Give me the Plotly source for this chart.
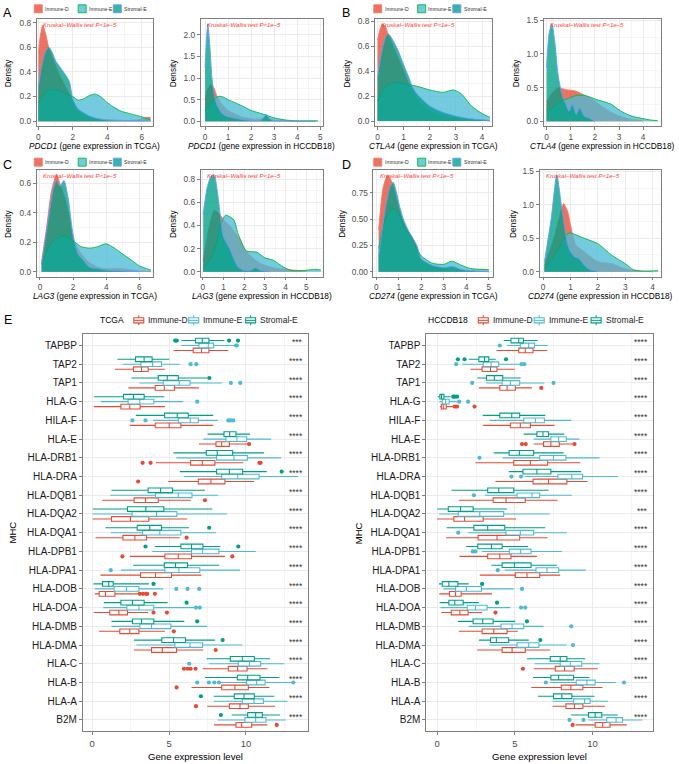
import plotly.graph_objects as go

W, H = 679, 764
FONT = "Liberation Sans, Arial, Helvetica, sans-serif"

GROUPS = ["Immune-D", "Immune-E", "Stromal-E"]

# ---------------- density curves ----------------
PDCD1_TCGA = {
    "Immune-D": ([0, 0.1, 0.25, 0.4, 0.6, 0.8, 1.0, 1.2, 1.5, 1.8, 2.0, 2.3, 2.6, 3.0, 3.5, 4.0, 5.0, 5.8, 6.2, 6.5],
                 [0.55, 0.68, 0.78, 0.72, 0.6, 0.52, 0.45, 0.38, 0.3, 0.22, 0.15, 0.08, 0.04, 0.02, 0.01, 0.01, 0.005, 0.01, 0.03, 0.03]),
    "Immune-E": ([0, 0.3, 0.6, 0.8, 1.2, 1.6, 2.0, 2.3, 2.6, 3.0, 3.3, 3.6, 4.0, 4.3, 4.8, 5.2, 5.6, 6.0, 6.5],
                 [0.15, 0.21, 0.25, 0.26, 0.25, 0.22, 0.2, 0.17, 0.18, 0.21, 0.22, 0.2, 0.15, 0.12, 0.08, 0.065, 0.05, 0.035, 0.01]),
    "Stromal-E": ([0, 0.2, 0.4, 0.6, 0.8, 1.0, 1.3, 1.6, 1.8, 2.0, 2.3, 2.6, 3.0, 3.5, 4.0, 5.0, 6.0, 6.5],
                  [0.28, 0.45, 0.56, 0.6, 0.56, 0.49, 0.43, 0.37, 0.32, 0.18, 0.1, 0.07, 0.04, 0.02, 0.01, 0.005, 0.005, 0.005]),
}
PDCD1_HCCDB18 = {
    "Immune-D": ([0, 0.1, 0.25, 0.4, 0.5, 0.7, 1.0, 1.3, 1.6, 2.0, 2.4, 2.65, 2.9, 3.3, 4.0, 4.8],
                 [0.5, 0.75, 0.86, 0.75, 0.6, 0.42, 0.25, 0.17, 0.1, 0.06, 0.05, 0.12, 0.04, 0.02, 0.005, 0.0]),
    "Immune-E": ([0, 0.2, 0.4, 0.6, 0.8, 1.0, 1.3, 1.6, 2.0, 2.5, 3.0, 3.5, 4.0, 4.5, 4.9],
                 [0.25, 0.38, 0.52, 0.58, 0.56, 0.5, 0.43, 0.36, 0.25, 0.17, 0.08, 0.03, 0.01, 0.01, 0.01]),
    "Stromal-E": ([0, 0.06, 0.12, 0.2, 0.3, 0.4, 0.5, 0.7, 0.9, 1.2, 1.5, 2.0, 2.4, 2.55, 2.65, 2.75, 2.9, 3.5, 4.0, 4.8],
                  [1.25, 1.9, 2.25, 1.8, 1.0, 0.6, 0.4, 0.2, 0.12, 0.08, 0.05, 0.02, 0.02, 0.08, 0.16, 0.08, 0.02, 0.01, 0.005, 0.0]),
}
CTLA4_TCGA = {
    "Immune-D": ([0, 0.1, 0.2, 0.3, 0.4, 0.6, 0.8, 1.0, 1.2, 1.4, 1.6, 2.0, 2.5, 3.0, 3.5, 4.0, 4.3],
                 [0.65, 0.74, 0.78, 0.76, 0.7, 0.6, 0.5, 0.4, 0.3, 0.22, 0.15, 0.08, 0.04, 0.02, 0.01, 0.01, 0.0]),
    "Immune-E": ([0, 0.3, 0.7, 1.0, 1.5, 2.0, 2.5, 2.9, 3.2, 3.6, 4.0, 4.3],
                 [0.16, 0.28, 0.31, 0.3, 0.28, 0.25, 0.23, 0.25, 0.22, 0.12, 0.06, 0.03]),
    "Stromal-E": ([0, 0.15, 0.3, 0.4, 0.5, 0.8, 1.0, 1.2, 1.3, 1.5, 2.0, 2.5, 3.0, 3.5, 4.0, 4.3],
                  [0.35, 0.55, 0.67, 0.7, 0.68, 0.56, 0.45, 0.35, 0.29, 0.22, 0.12, 0.07, 0.04, 0.02, 0.01, 0.005]),
}
CTLA4_HCCDB18 = {
    "Immune-D": ([0, 0.3, 0.5, 0.8, 1.2, 1.5, 1.8, 2.0, 2.3, 2.6, 3.0, 3.5, 4.0],
                 [0.3, 0.45, 0.5, 0.47, 0.45, 0.4, 0.35, 0.3, 0.22, 0.15, 0.08, 0.03, 0.01]),
    "Immune-E": ([0, 0.3, 0.6, 0.9, 1.2, 1.5, 1.8, 2.1, 2.4, 2.7, 3.0, 3.3, 3.6, 4.0, 4.3, 4.6],
                 [0.16, 0.22, 0.3, 0.34, 0.38, 0.39, 0.36, 0.32, 0.29, 0.25, 0.17, 0.11, 0.07, 0.04, 0.02, 0.01]),
    "Stromal-E": ([0, 0.1, 0.22, 0.35, 0.47, 0.6, 0.68, 0.8, 0.93, 1.07, 1.23, 1.37, 1.55, 1.75, 2.0],
                  [0.8, 1.3, 1.45, 1.15, 0.7, 0.45, 0.35, 0.25, 0.15, 0.25, 0.1, 0.2, 0.08, 0.05, 0.0]),
}
LAG3_TCGA = {
    "Immune-D": ([0.1, 0.4, 0.7, 1.0, 1.2, 1.5, 1.8, 2.0, 2.5, 3.0, 3.5, 4.0, 5.0, 6.0, 6.7],
                 [0.07, 0.3, 0.55, 0.66, 0.6, 0.5, 0.35, 0.22, 0.12, 0.06, 0.03, 0.02, 0.02, 0.005, 0.0]),
    "Immune-E": ([0.1, 0.6, 1.2, 1.6, 2.0, 2.5, 3.0, 3.5, 4.0, 4.5, 5.0, 5.5, 6.0, 6.7],
                 [0.05, 0.18, 0.24, 0.24, 0.21, 0.17, 0.16, 0.17, 0.19, 0.16, 0.12, 0.08, 0.04, 0.01]),
    "Stromal-E": ([0.1, 0.5, 0.8, 1.0, 1.2, 1.45, 1.7, 2.0, 2.3, 2.6, 3.0, 3.5, 4.0, 5.0, 6.0],
                  [0.05, 0.35, 0.56, 0.62, 0.58, 0.62, 0.5, 0.25, 0.12, 0.08, 0.03, 0.02, 0.01, 0.005, 0.0]),
}
LAG3_HCCDB18 = {
    "Immune-D": ([0.02, 0.3, 0.55, 0.8, 1.0, 1.3, 1.5, 1.8, 2.0, 2.4, 2.8, 3.1, 3.5, 4.0, 5.0],
                 [0.1, 0.38, 0.53, 0.5, 0.45, 0.4, 0.35, 0.28, 0.2, 0.12, 0.07, 0.05, 0.03, 0.02, 0.005]),
    "Immune-E": ([0.02, 0.5, 0.85, 1.1, 1.5, 1.7, 2.1, 2.6, 3.0, 3.4, 3.9, 4.3, 4.8, 5.4, 5.7],
                 [0.03, 0.15, 0.4, 0.49, 0.45, 0.33, 0.18, 0.17, 0.12, 0.1, 0.04, 0.01, 0.01, 0.02, 0.015]),
    "Stromal-E": ([0.02, 0.2, 0.4, 0.55, 0.7, 0.85, 1.0, 1.3, 1.5, 1.7, 2.0, 2.3, 2.55, 2.8, 3.2],
                  [0.5, 0.72, 0.83, 0.84, 0.7, 0.48, 0.3, 0.2, 0.11, 0.04, 0.01, 0.01, 0.035, 0.01, 0.0]),
}
CD274_TCGA = {
    "Immune-D": ([0.1, 0.3, 0.5, 0.7, 1.0, 1.3, 1.6, 2.0, 2.5, 3.0, 3.5, 4.0, 5.0],
                 [0.4, 0.8, 0.92, 0.85, 0.6, 0.42, 0.33, 0.12, 0.05, 0.03, 0.02, 0.01, 0.005]),
    "Immune-E": ([0.1, 0.4, 0.75, 1.0, 1.3, 1.5, 1.8, 2.0, 2.5, 3.0, 3.35, 3.8, 4.2, 5.0],
                 [0.22, 0.5, 0.6, 0.55, 0.4, 0.35, 0.22, 0.15, 0.08, 0.07, 0.1, 0.06, 0.03, 0.02]),
    "Stromal-E": ([0.1, 0.4, 0.6, 0.75, 0.9, 1.0, 1.2, 1.5, 1.8, 2.0, 2.5, 3.0, 3.4, 3.8, 4.5, 5.0],
                  [0.15, 0.6, 0.8, 0.85, 0.75, 0.65, 0.5, 0.36, 0.25, 0.12, 0.06, 0.04, 0.05, 0.02, 0.005, 0.0]),
}
CD274_HCCDB18 = {
    "Immune-D": ([0.05, 0.4, 0.65, 0.75, 0.9, 1.0, 1.2, 1.5, 2.0, 2.5, 3.0, 3.5, 4.0],
                 [0.1, 0.5, 0.9, 1.02, 0.9, 0.7, 0.4, 0.3, 0.15, 0.12, 0.04, 0.01, 0.0]),
    "Immune-E": ([0.05, 0.5, 0.9, 1.0, 1.5, 2.0, 2.5, 3.0, 3.3, 3.6, 4.2],
                 [0.05, 0.3, 0.57, 0.58, 0.5, 0.42, 0.25, 0.12, 0.03, 0.01, 0.015]),
    "Stromal-E": ([0.05, 0.3, 0.5, 0.7, 0.9, 1.0, 1.15, 1.3, 1.5, 1.7, 2.0],
                  [0.15, 0.8, 1.45, 0.9, 0.4, 0.3, 0.22, 0.2, 0.1, 0.03, 0.005]),
}

# ---------------- box plot statistics (lo whisker, q1, median, q3, hi whisker) ----------------
GENES = ["TAPBP", "TAP2", "TAP1", "HLA-G", "HILA-F", "HLA-E", "HLA-DRB1", "HLA-DRA", "HLA-DQB1",
         "HLA-DQA2", "HLA-DQA1", "HLA-DPB1", "HLA-DPA1", "HLA-DOB", "HLA-DOA", "HLA-DMB", "HLA-DMA",
         "HLA-C", "HLA-B", "HLA-A", "B2M"]

TCGA_STROMAL = [(5.81, 6.72, 7.16, 7.59, 8.59), (1.65, 2.82, 3.38, 3.90, 5.01), (2.56, 4.30, 4.88, 5.60, 7.50),
                (0.11, 2.04, 2.69, 3.38, 4.69), (2.84, 4.71, 5.53, 6.25, 7.87), (7.51, 8.57, 8.94, 9.35, 10.26),
                (5.29, 7.42, 8.13, 9.13, 11.17), (5.70, 8.09, 8.92, 9.78, 11.35), (1.26, 3.64, 4.45, 5.23, 7.33),
                (0.04, 2.30, 3.49, 4.66, 7.81), (0.87, 2.93, 3.75, 4.51, 6.29), (4.08, 5.77, 6.46, 7.20, 8.33),
                (2.67, 4.69, 5.42, 6.20, 8.26), (0.09, 0.67, 1.08, 1.37, 3.69), (0.76, 1.87, 2.62, 3.38, 4.90),
                (1.26, 2.62, 3.21, 4.01, 5.99), (2.71, 4.53, 5.29, 6.07, 7.98), (7.44, 8.98, 9.76, 10.54, 11.56),
                (7.33, 9.44, 10.11, 10.91, 12.17), (7.90, 9.24, 9.87, 10.54, 11.84), (9.07, 10.11, 10.63, 11.06, 12.21)]
TCGA_IMMUNE_E = [(5.80, 6.94, 7.55, 7.90, 9.28), (1.97, 3.17, 3.93, 4.51, 5.70), (3.08, 4.62, 5.66, 6.36, 8.42),
                 (0.56, 2.34, 3.10, 4.01, 5.92), (3.97, 5.60, 6.38, 6.90, 8.16), (7.22, 8.70, 9.41, 10.04, 11.63),
                 (5.47, 8.09, 9.22, 10.09, 12.28), (5.97, 8.42, 9.46, 10.85, 13.40), (1.17, 4.12, 5.60, 6.49, 8.20),
                 (0.04, 2.60, 4.19, 5.51, 8.76), (1.21, 3.28, 4.40, 5.77, 8.05), (3.90, 6.46, 7.18, 8.24, 10.63),
                 (1.87, 4.73, 5.64, 7.00, 9.61), (0.17, 1.43, 2.23, 3.04, 4.62), (0.72, 2.26, 3.04, 4.01, 6.64),
                 (1.26, 3.10, 3.86, 5.12, 7.48), (2.88, 5.38, 6.36, 7.18, 9.76), (7.59, 9.50, 10.22, 10.95, 12.49),
                 (8.35, 10.04, 10.69, 11.24, 12.97), (7.90, 9.76, 10.52, 11.13, 12.69), (8.16, 9.93, 10.63, 11.30, 12.58)]
TCGA_IMMUNE_D = [(5.29, 6.57, 7.11, 7.59, 8.85), (1.48, 2.69, 3.21, 3.64, 4.73), (2.36, 4.10, 4.69, 5.36, 6.94),
                 (0.11, 1.87, 2.45, 3.12, 4.73), (2.45, 4.10, 5.01, 5.77, 7.87), (6.94, 8.05, 8.42, 8.92, 10.15),
                 (4.14, 6.40, 7.16, 7.98, 9.83), (4.95, 6.90, 7.72, 8.63, 10.52), (0.65, 2.73, 3.47, 4.30, 6.42),
                 (0.04, 1.26, 2.49, 3.69, 6.18), (0.22, 2.00, 2.78, 3.54, 5.70), (2.45, 4.73, 5.60, 6.46, 8.63),
                 (0.54, 3.15, 4.12, 5.16, 7.11), (0.17, 0.46, 0.87, 1.48, 2.99), (0.11, 1.15, 1.74, 2.30, 3.64),
                 (0.46, 1.80, 2.45, 3.04, 4.73), (2.71, 3.86, 4.56, 5.49, 7.22), (7.18, 8.85, 9.46, 10.07, 11.39),
                 (6.46, 8.42, 9.28, 10.15, 11.52), (7.48, 8.92, 9.61, 10.15, 11.89), (7.92, 9.35, 9.72, 10.37, 11.39)]

TCGA_OUT_STROMAL = {"TAPBP": [5.4, 5.5, 8.9, 9.48], "TAP1": [7.62], "HLA-DRA": [12.32], "HLA-DQA1": [7.61],
                    "HLA-DPB1": [3.47, 9.5], "HLA-DOB": [3.99], "HLA-DOA": [6.14], "HLA-DMB": [6.83],
                    "HLA-DMA": [8.48], "HLA-A": [7.07], "B2M": [8.37]}
TCGA_OUT_IMMUNE_E = {"TAPBP": [9.35, 9.41], "TAP2": [6.4, 6.77], "TAP1": [9.02, 9.63], "HLA-G": [6.83],
                     "HILA-F": [2.62, 3.47, 8.85, 9.0, 9.17], "HLA-DPA1": [1.21], "HLA-DOB": [5.47, 6.2, 6.96],
                     "HLA-DOA": [6.75, 7.0], "HLA-C": [6.31], "HLA-B": [6.83, 7.59, 7.94, 8.24, 13.08]}
TCGA_OUT_IMMUNE_D = {"HLA-E": [10.2], "HLA-DRB1": [3.28, 3.8, 10.87, 10.95], "HLA-DRA": [2.99], "HLA-DQB1": [7.33],
                     "HLA-DQA1": [6.14], "HLA-DPB1": [1.97, 9.11], "HLA-DOB": [3.1, 3.3, 3.5, 3.58, 4.08],
                     "HLA-DOA": [3.99, 4.86], "HLA-DMB": [5.31], "HLA-DMA": [8.03], "HLA-C": [5.97, 6.2, 6.4, 6.72],
                     "HLA-B": [5.49], "HLA-A": [6.75], "B2M": [12.0]}

HCC_STROMAL = [(4.28, 4.75, 5.25, 5.55, 6.47), (2.03, 2.68, 3.04, 3.32, 3.77), (2.57, 3.17, 3.68, 4.22, 5.37),
               (0.04, 0.17, 0.28, 0.43, 0.86), (2.93, 4.03, 4.80, 5.31, 6.96), (5.57, 6.42, 6.81, 7.17, 8.18),
               (3.64, 4.63, 5.29, 6.21, 8.14), (4.60, 5.52, 6.42, 7.32, 9.27), (0.92, 3.25, 3.96, 4.93, 7.17),
               (0.00, 0.71, 1.50, 2.31, 4.50), (0.60, 2.36, 3.25, 4.35, 6.96), (1.86, 2.61, 3.49, 4.18, 5.85),
               (3.49, 4.18, 4.97, 6.04, 7.71), (0.11, 0.32, 0.75, 1.33, 2.03), (0.15, 0.75, 1.13, 1.67, 2.68),
               (1.33, 2.31, 2.93, 3.60, 5.03), (2.68, 3.43, 3.81, 4.60, 5.89), (5.78, 7.28, 7.92, 8.35, 9.53),
               (6.17, 7.32, 7.82, 8.78, 9.81), (6.49, 7.49, 8.03, 8.67, 10.13), (8.63, 9.74, 10.17, 10.60, 11.63)]
HCC_IMMUNE_E = [(4.50, 5.35, 5.89, 6.27, 7.11), (1.61, 2.96, 3.47, 3.96, 5.25), (3.15, 4.18, 4.71, 5.31, 6.90),
                (0.13, 0.32, 0.54, 0.77, 1.28), (3.38, 5.57, 6.32, 6.90, 8.63), (6.21, 7.32, 7.82, 8.31, 9.16),
                (4.22, 6.60, 7.49, 8.29, 10.45), (5.67, 7.77, 8.67, 9.36, 11.63), (3.06, 5.14, 6.10, 6.60, 8.67),
                (0.11, 1.35, 2.74, 4.28, 7.24), (1.99, 4.43, 5.35, 6.21, 8.35), (2.89, 4.65, 5.37, 6.04, 8.03),
                (4.35, 6.36, 7.07, 7.82, 9.57), (0.39, 1.18, 1.88, 2.85, 4.93), (0.21, 1.93, 2.46, 3.21, 4.71),
                (2.03, 4.11, 4.82, 5.57, 6.85), (3.36, 5.14, 5.89, 6.55, 8.35), (6.27, 7.92, 8.57, 9.31, 10.45),
                (7.28, 8.95, 9.64, 10.17, 11.50), (7.43, 8.78, 9.49, 9.85, 10.99), (9.74, 10.92, 11.52, 11.93, 13.21)]
HCC_IMMUNE_D = [(3.81, 5.25, 5.67, 6.17, 7.09), (2.14, 2.89, 3.43, 3.85, 4.99), (2.68, 4.03, 4.50, 5.03, 6.10),
                (0.17, 0.26, 0.39, 0.58, 1.07), (2.96, 4.71, 5.35, 6.00, 7.56), (6.21, 6.85, 7.32, 7.86, 8.78),
                (2.46, 4.93, 6.00, 7.11, 9.21), (3.75, 6.17, 7.17, 8.35, 9.68), (1.39, 3.60, 4.43, 5.67, 7.75),
                (0.00, 1.07, 1.76, 2.96, 5.07), (0.56, 2.63, 3.85, 5.31, 7.11), (1.43, 3.25, 4.03, 4.75, 6.42),
                (2.74, 5.03, 5.78, 6.60, 7.92), (0.13, 0.79, 1.18, 1.54, 3.53), (0.26, 0.90, 1.46, 1.99, 2.89),
                (1.39, 2.89, 3.64, 4.50, 5.20), (2.57, 4.18, 4.82, 5.67, 7.28), (6.21, 7.60, 8.20, 8.82, 10.34),
                (6.06, 7.99, 8.61, 9.38, 10.64), (7.43, 8.29, 8.84, 9.38, 10.81), (8.90, 10.17, 10.66, 11.13, 12.21)]

HCC_OUT_STROMAL = {"TAP2": [1.33, 1.76, 4.43], "HLA-G": [1.03, 1.13, 1.28], "HLA-DOB": [2.89], "HLA-DOA": [3.85],
                   "HLA-DMB": [5.78], "HLA-DMA": [6.64]}
HCC_OUT_IMMUNE_E = {"TAPBP": [4.03], "TAP2": [1.22, 5.42, 5.61], "TAP1": [2.25, 7.49], "HLA-G": [1.41, 1.99],
                    "HLA-DRB1": [2.72], "HLA-DRA": [4.78, 5.4], "HLA-DQB1": [2.36], "HLA-DQA1": [1.35],
                    "HLA-DPB1": [2.29, 2.46], "HLA-DPA1": [3.9], "HLA-DOB": [5.46], "HLA-DOA": [5.4, 5.67],
                    "HLA-DMB": [8.63], "HLA-DMA": [8.74], "HLA-B": [7.0, 12.03], "B2M": [8.52, 9.42]}
HCC_OUT_IMMUNE_D = {"TAP1": [6.7], "HLA-G": [1.13, 1.28, 2.4], "HLA-E": [5.46, 5.7, 8.84], "HLA-DOA": [3.75],
                    "HLA-C": [5.52], "B2M": [8.72]}

TCGA_SIG = ["***"] + ["****"] * 20
HCC_SIG = ["****"] * 9 + ["***"] + ["****"] * 11

# ---------------- styling ----------------
FILL = {"Immune-D": "rgba(230,75,53,0.78)", "Immune-E": "rgba(77,187,213,0.78)", "Stromal-E": "rgba(0,160,135,0.78)"}
EDGE = {"Immune-D": "#F8766D", "Immune-E": "#00BA38", "Stromal-E": "#619CFF"}
BOXCOL = {"Immune-D": "#E64B35", "Immune-E": "#4DBBD5", "Stromal-E": "#00A087"}
GRID = "#EBEBEB"
MINOR = "#F5F5F5"
FRAME = "#7F7F7F"
TICKTXT = "#4D4D4D"


def X(px):
    return px / W


def Y(py):
    return 1 - py / H


def sfx(i):
    return "" if i == 1 else str(i)


fig = go.Figure()
annotations = []
shapes = []
layout = {}

# density panels: (data, gene, dataset, xrange, yrange, xdtick, ydtick, yfmt, (x0,x1) px, (top,bottom) px, ytitle offset)
DENS = [
    (PDCD1_TCGA, "PDCD1", "TCGA", [-0.1, 6.65], [-0.04, 0.83], 2, 0.2, ".1f", (35.7, 152.3), (15, 122.7), 28),
    (PDCD1_HCCDB18, "PDCD1", "HCCDB18", [-0.19, 5.1], [-0.11, 2.37], 1, 0.5, ".1f", (200, 322), (15, 122.7), 27),
    (CTLA4_TCGA, "CTLA4", "TCGA", [-0.1, 4.38], [-0.04, 0.82], 1, 0.2, ".1f", (374.5, 491.7), (15, 122.7), 28),
    (CTLA4_HCCDB18, "CTLA4", "HCCDB18", [-0.12, 4.72], [-0.07, 1.52], 1, 0.5, ".1f", (543.5, 660.5), (15, 122.7), 27),
    (LAG3_TCGA, "LAG3", "TCGA", [-0.2, 6.83], [-0.033, 0.69], 2, 0.2, ".1f", (35.7, 152.3), (167, 274), 28),
    (LAG3_HCCDB18, "LAG3", "HCCDB18", [-0.1, 5.78], [-0.042, 0.88], 1, 0.2, ".1f", (200, 322), (167, 274), 27),
    (CD274_TCGA, "CD274", "TCGA", [-0.13, 5.17], [-0.046, 0.966], 1, 0.25, ".2f", (373, 492.3), (167, 274), 31),
    (CD274_HCCDB18, "CD274", "HCCDB18", [-0.13, 4.29], [-0.073, 1.52], 1, 0.5, ".1f", (539.3, 660.5), (167, 274), 26),
]

for i, (data, gene, ds, xr, yr, xd, yd, yfmt, (x0, x1), (t, b), yto) in enumerate(DENS, start=1):
    s = sfx(i)
    for g in GROUPS:
        xs, ys = data[g]
        fig.add_trace(go.Scatter(
            x=xs, y=ys, xaxis="x" + s, yaxis="y" + s, mode="lines", fill="tozeroy",
            fillcolor=FILL[g], line=dict(color=EDGE[g], width=0.9, shape="spline", smoothing=0.6),
            showlegend=False, hoverinfo="skip"))
    common = dict(showline=True, mirror=True, linecolor=FRAME, linewidth=0.8, ticks="outside", ticklen=3,
                  tickcolor=FRAME, tickwidth=0.8, tickfont=dict(size=8.3, color=TICKTXT, family=FONT),
                  showgrid=True, gridcolor=GRID, gridwidth=0.8, zeroline=False)
    layout["xaxis" + s] = dict(domain=[X(x0), X(x1)], range=xr, anchor="y" + s, tick0=0, dtick=xd,
                               minor=dict(showgrid=True, gridcolor=MINOR, dtick=xd / 2, tick0=0), **common)
    layout["yaxis" + s] = dict(domain=[Y(b), Y(t)], range=yr, anchor="x" + s, tick0=0, dtick=yd, tickformat=yfmt,
                               minor=dict(showgrid=True, gridcolor=MINOR, dtick=yd / 2, tick0=0), **common)
    annotations.append(dict(text="<i>Kruskal\u2212Wallis test P&lt;1e\u22125</i>", xref="x%s domain" % s, yref="y%s domain" % s,
                            x=0.045, y=0.945, xanchor="left", yanchor="middle", showarrow=False, borderpad=0,
                            font=dict(size=6, color="#FF3B3B", family=FONT)))
    annotations.append(dict(text="<i>%s</i> (gene expression in %s)" % (gene, ds), xref="paper", yref="paper",
                            x=X((x0 + x1) / 2), y=Y(b + 20), xanchor="center", yanchor="middle", showarrow=False,
                            font=dict(size=8.3, color="black", family=FONT)))
    annotations.append(dict(text="Density", xref="paper", yref="paper", x=X(x0 - yto), y=Y((t + b) / 2),
                            xanchor="center", yanchor="middle", textangle=-90, showarrow=False,
                            font=dict(size=8.3, color="black", family=FONT)))

# density legends (manual keys)
for (lx, ly) in [(0, 4.8), (340, 4.8), (0, 159), (340, 159)]:
    for k, g in enumerate(GROUPS):
        sx = lx + [33.3, 77.3, 112.5][k]
        shapes.append(dict(type="rect", xref="paper", yref="paper", x0=X(sx), x1=X(sx + 8), y0=Y(ly + 4), y1=Y(ly - 4),
                           fillcolor=FILL[g], line=dict(color=EDGE[g], width=0.9)))
        annotations.append(dict(text=g, xref="paper", yref="paper", x=X(sx + 9.8), y=Y(ly), xanchor="left",
                                yanchor="middle", showarrow=False, borderpad=0,
                                font=dict(size=5.1, color="#333", family=FONT)))

# panel letters
for letter, (px_, py_) in {"A": (0, 9), "B": (340, 9), "C": (0, 162), "D": (340, 162), "E": (1, 318)}.items():
    annotations.append(dict(text=letter, xref="paper", yref="paper", x=X(px_), y=Y(py_), xanchor="left",
                            yanchor="middle", showarrow=False, font=dict(size=12.5, color="black", family=FONT)))

# ---------------- box plot panels ----------------
NG = len(GENES)
POS = [NG - k for k in range(NG)]
OFFSET = {"Immune-D": -0.265, "Immune-E": 0.0, "Stromal-E": 0.265}

BOXPANELS = [
    (9, "TCGA", {"Immune-D": TCGA_IMMUNE_D, "Immune-E": TCGA_IMMUNE_E, "Stromal-E": TCGA_STROMAL},
     {"Immune-D": TCGA_OUT_IMMUNE_D, "Immune-E": TCGA_OUT_IMMUNE_E, "Stromal-E": TCGA_OUT_STROMAL},
     TCGA_SIG, [-0.6, 14.0], (82, 307), 11.7, (97, [133, 188, 245])),
    (10, "HCCDB18", {"Immune-D": HCC_IMMUNE_D, "Immune-E": HCC_IMMUNE_E, "Stromal-E": HCC_STROMAL},
     {"Immune-D": HCC_OUT_IMMUNE_D, "Immune-E": HCC_OUT_IMMUNE_E, "Stromal-E": HCC_OUT_STROMAL},
     HCC_SIG, [-0.7, 13.9], (426, 653), 358, (426, [478, 534, 591])),
]
ETOP, EBOT = 332, 731

for (idx, ds, stats, outs, sig, xr, (x0, x1), mhc_x, (leg_x, icon_xs)) in BOXPANELS:
    s = sfx(idx)
    for g in GROUPS:
        st = stats[g]
        fig.add_trace(go.Box(
            orientation="h", y=[p + OFFSET[g] for p in POS],
            lowerfence=[v[0] for v in st], q1=[v[1] for v in st], median=[v[2] for v in st],
            q3=[v[3] for v in st], upperfence=[v[4] for v in st],
            width=0.25, whiskerwidth=0, fillcolor="white", line=dict(color=BOXCOL[g], width=1.1),
            boxpoints=False, xaxis="x" + s, yaxis="y" + s, showlegend=False, hoverinfo="skip"))
        ox, oy = [], []
        for gene, vals in outs[g].items():
            p = POS[GENES.index(gene)] + OFFSET[g]
            for v in vals:
                ox.append(v)
                oy.append(p)
        fig.add_trace(go.Scatter(x=ox, y=oy, mode="markers", marker=dict(color=BOXCOL[g], size=4.2),
                                 xaxis="x" + s, yaxis="y" + s, showlegend=False, hoverinfo="skip"))
    common = dict(showline=True, mirror=True, linecolor=FRAME, linewidth=0.9, ticks="outside", ticklen=3,
                  tickcolor=FRAME, tickwidth=0.8, showgrid=True, gridcolor=GRID, gridwidth=0.8, zeroline=False)
    layout["xaxis" + s] = dict(domain=[X(x0), X(x1)], range=xr, anchor="y" + s, tick0=0, dtick=5,
                               tickfont=dict(size=9.5, color=TICKTXT, family=FONT),
                               minor=dict(showgrid=True, gridcolor=MINOR, dtick=2.5, tick0=0), **common)
    layout["yaxis" + s] = dict(domain=[Y(EBOT), Y(ETOP)], range=[0.4, NG + 0.6], anchor="x" + s,
                               tickvals=POS, ticktext=GENES, tickfont=dict(size=10, color="#1a1a1a", family=FONT),
                               **common)
    for k, gene in enumerate(GENES):
        annotations.append(dict(text=sig[k], xref="x%s domain" % s, yref="y" + s, x=0.988, y=POS[k] + 0.18,
                                xanchor="right", yanchor="middle", showarrow=False,
                                font=dict(size=8.5, color="#333", family=FONT)))
    annotations.append(dict(text="Gene expression level", xref="paper", yref="paper", x=X((x0 + x1) / 2), y=Y(756),
                            xanchor="center", yanchor="middle", showarrow=False,
                            font=dict(size=9.6, color="black", family=FONT)))
    annotations.append(dict(text="MHC", xref="paper", yref="paper", x=X(mhc_x), y=Y((ETOP + EBOT) / 2),
                            xanchor="center", yanchor="middle", textangle=-90, showarrow=False,
                            font=dict(size=9.5, color="black", family=FONT)))
    # legend (manual boxplot keys)
    annotations.append(dict(text=ds, xref="paper", yref="paper", x=X(leg_x), y=Y(318), xanchor="left",
                            yanchor="middle", showarrow=False, font=dict(size=8.5, color="black", family=FONT)))
    for k, g in enumerate(GROUPS):
        ix = icon_xs[k]
        c = BOXCOL[g]
        shapes.append(dict(type="rect", xref="paper", yref="paper", x0=X(ix), x1=X(ix + 10), y0=Y(320.6), y1=Y(315.4),
                           fillcolor="white", line=dict(color=c, width=1.1)))
        shapes.append(dict(type="line", xref="paper", yref="paper", x0=X(ix), x1=X(ix + 10), y0=Y(318), y1=Y(318),
                           line=dict(color=c, width=1.1)))
        shapes.append(dict(type="line", xref="paper", yref="paper", x0=X(ix + 5), x1=X(ix + 5), y0=Y(313), y1=Y(315.4),
                           line=dict(color=c, width=1.1)))
        shapes.append(dict(type="line", xref="paper", yref="paper", x0=X(ix + 5), x1=X(ix + 5), y0=Y(320.6), y1=Y(323),
                           line=dict(color=c, width=1.1)))
        annotations.append(dict(text=g, xref="paper", yref="paper", x=X(ix + 12.5), y=Y(318), xanchor="left",
                                yanchor="middle", showarrow=False, font=dict(size=8.5, color="#1a1a1a", family=FONT)))

fig.update_layout(
    width=W, height=H, margin=dict(l=0, r=0, t=0, b=0),
    paper_bgcolor="white", plot_bgcolor="white",
    font=dict(family=FONT, color="black"),
    showlegend=False, annotations=annotations, shapes=shapes, **layout)

fig.write_html("out.html", config={"displayModeBar": False}, post_script=[
    "document.body.style.margin='0px';document.body.style.padding='0px';document.body.style.overflow='hidden';"
])
